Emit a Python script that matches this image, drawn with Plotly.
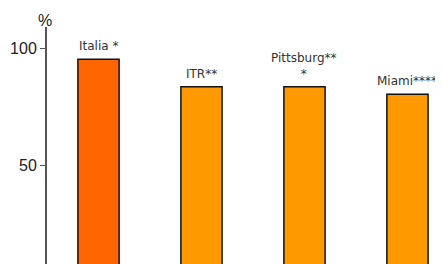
import plotly.graph_objects as go

categories = ["Italia *", "ITR**", "Pittsburg**<br>*", "Miami****"]
values = [95.4, 83.6, 83.6, 80.4]
colors = ["#FF6600", "#FF9900", "#FF9900", "#FF9900"]
tick_vals = [50, 100]
tick_text = ["50", "100"]

fig = go.Figure()
fig.add_trace(go.Bar(
    x=list(range(len(categories))), y=values,
    marker=dict(color=colors, line=dict(color="#111111", width=1.5)),
    width=0.4,
))
for i, (c, v) in enumerate(zip(categories, values)):
    fig.add_annotation(x=i, y=v, text=c, showarrow=False, yanchor="bottom",
                       yshift=4, font=dict(family="DejaVu Sans", size=12, color="#333333"))
fig.add_annotation(xref="paper", yref="paper", x=0, y=1, text="%", showarrow=False,
                   xanchor="center", yanchor="bottom", yshift=-4, xshift=-2,
                   font=dict(family="Liberation Sans", size=16, color="#222222"))

fig.update_layout(
    width=435, height=256,
    margin=dict(l=39, r=0, t=19, b=0),
    plot_bgcolor="white", paper_bgcolor="white",
    showlegend=False,
    xaxis=dict(range=[-0.5, 3.345], showticklabels=False, showgrid=False,
               zeroline=False, showline=False, ticks="", automargin=False),
    yaxis=dict(range=[8.1, 109.1], tickvals=tick_vals, ticktext=tick_text,
               showgrid=False, zeroline=False, showline=True, linecolor="#555555",
               linewidth=2, ticks="outside", ticklen=5, tickcolor="#555555", tickwidth=1,
               automargin=False,
               tickfont=dict(family="Liberation Sans", size=16, color="#222222")),
)
fig.write_html("out.html")
